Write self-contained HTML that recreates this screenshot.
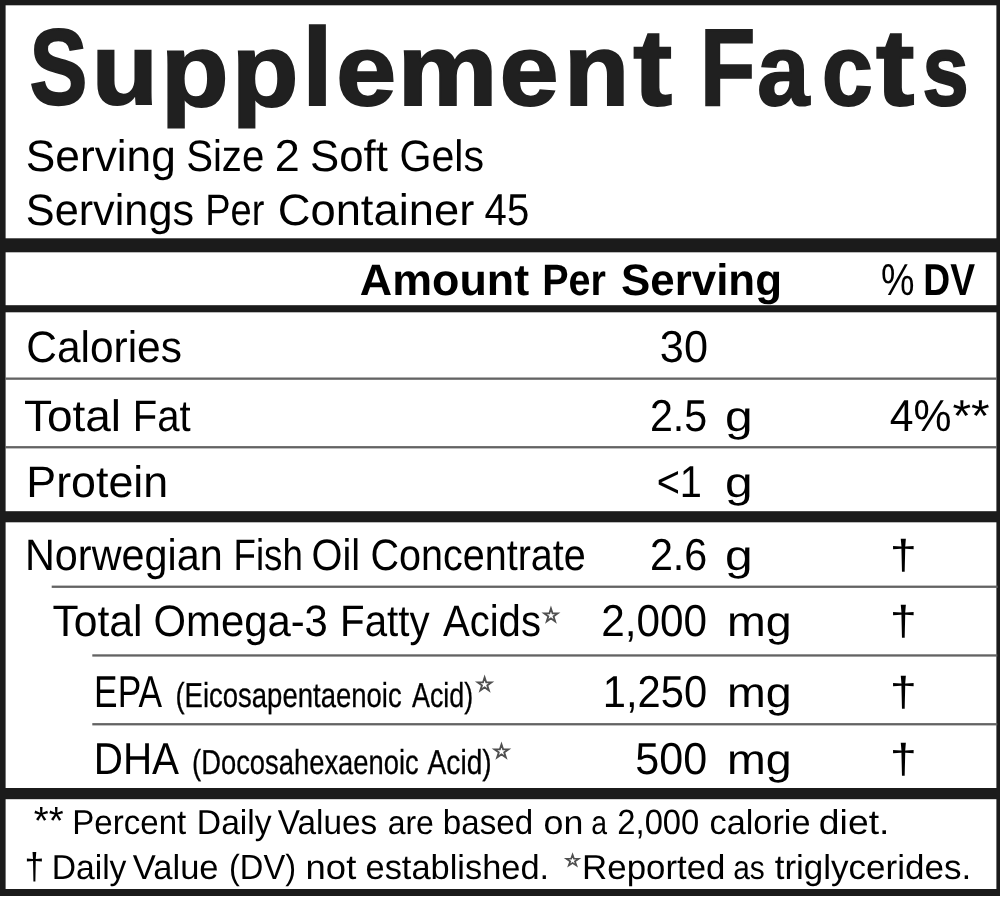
<!DOCTYPE html>
<html lang="en">
<head>
<meta charset="utf-8">
<title>Supplement Facts</title>
<style>
html,body{margin:0;padding:0;background:#fff;}
body{width:1000px;height:899px;overflow:hidden;}
svg{display:block;}
text{font-family:"Liberation Sans",sans-serif;font-size:44px;fill:#000;text-rendering:geometricPrecision;}
.b{font-weight:700;}
.n{font-weight:400;}
.t{font-size:110px;font-weight:700;fill:#202020;stroke:#202020;stroke-width:2px;stroke-linejoin:miter;}
.c{font-size:34.5px;stroke:#000;stroke-width:0.3px;}
.f{font-size:34.5px;}
.s{font-family:"DejaVu Sans",sans-serif;font-size:20px;fill:#505050;stroke:#505050;stroke-width:1.2px;}
.s2{font-family:"DejaVu Sans",sans-serif;font-size:16.5px;fill:#505050;stroke:#505050;stroke-width:1.1px;}
</style>
</head>
<body>
<svg width="1000" height="899" viewBox="0 0 1000 899">
<rect x="0" y="0" width="1000" height="899" fill="#fff"/>
<rect x="0" y="0" width="1000" height="5.3" fill="#1b1b1b"/>
<rect x="0" y="0" width="5.6" height="896" fill="#1b1b1b"/>
<rect x="996.4" y="0" width="3.6" height="896" fill="#1b1b1b"/>
<rect x="0" y="889" width="1000" height="7" fill="#1b1b1b"/>
<rect x="0" y="238.3" width="1000" height="14" fill="#1b1b1b"/>
<rect x="0" y="305.2" width="1000" height="7.1" fill="#1b1b1b"/>
<rect x="0" y="511.2" width="1000" height="11.1" fill="#1b1b1b"/>
<rect x="0" y="788" width="1000" height="11.2" fill="#1b1b1b"/>
<rect x="5" y="377.5" width="992" height="2.3" fill="#636363"/>
<rect x="5" y="446.1" width="992" height="2.3" fill="#636363"/>
<rect x="51.7" y="585.6" width="946" height="2.3" fill="#636363"/>
<rect x="92.3" y="654.3" width="905" height="2.3" fill="#636363"/>
<rect x="92.3" y="723.1" width="905" height="2.3" fill="#636363"/>
<text class="t"><tspan style="font-size:107.2px;stroke-width:2.4px" x="29.72" y="104.05" textLength="57.45" lengthAdjust="spacingAndGlyphs">S</tspan><tspan style="font-size:100.91px;stroke-width:2.0px" x="91.87" y="104.31" textLength="66.28" lengthAdjust="spacingAndGlyphs">u</tspan><tspan style="font-size:103.42px;stroke-width:2.0px" x="160.67" y="105.80" textLength="67.88" lengthAdjust="spacingAndGlyphs">p</tspan><tspan style="font-size:103.42px;stroke-width:2.0px" x="231.81" y="105.80" textLength="66.67" lengthAdjust="spacingAndGlyphs">p</tspan><tspan style="font-size:110.13px;stroke-width:2.0px" x="302.37" y="104.80" textLength="30.37" lengthAdjust="spacingAndGlyphs">l</tspan><tspan style="font-size:101.49px;stroke-width:2.0px" x="336.39" y="104.61" textLength="59.89" lengthAdjust="spacingAndGlyphs">e</tspan><tspan style="font-size:101.75px;stroke-width:2.0px" x="397.59" y="104.80" textLength="99.99" lengthAdjust="spacingAndGlyphs">m</tspan><tspan style="font-size:101.49px;stroke-width:2.0px" x="499.87" y="104.61" textLength="58.74" lengthAdjust="spacingAndGlyphs">e</tspan><tspan style="font-size:101.75px;stroke-width:2.0px" x="563.96" y="104.80" textLength="65.27" lengthAdjust="spacingAndGlyphs">n</tspan><tspan style="font-size:108.3px;stroke-width:2.0px" x="633.18" y="104.65" textLength="38.85" lengthAdjust="spacingAndGlyphs">t</tspan> <tspan style="font-size:108.72px;stroke-width:2.4px" x="700.19" y="104.60" textLength="54.90" lengthAdjust="spacingAndGlyphs">F</tspan><tspan style="font-size:101.49px;stroke-width:2.0px" x="757.25" y="104.61" textLength="52.15" lengthAdjust="spacingAndGlyphs">a</tspan><tspan style="font-size:101.12px;stroke-width:2.2px" x="821.94" y="104.51" textLength="50.62" lengthAdjust="spacingAndGlyphs">c</tspan><tspan style="font-size:108.3px;stroke-width:2.0px" x="875.99" y="104.65" textLength="38.42" lengthAdjust="spacingAndGlyphs">t</tspan><tspan style="font-size:101.03px;stroke-width:2.2px" x="922.58" y="104.51" textLength="46.12" lengthAdjust="spacingAndGlyphs">s</tspan></text>
<text><tspan style="font-size:44.0px" x="25.79" y="170.60" textLength="150.06" lengthAdjust="spacingAndGlyphs">Serving</tspan> <tspan style="font-size:44.0px" x="186.18" y="170.60" textLength="78.11" lengthAdjust="spacingAndGlyphs">Size</tspan> <tspan style="font-size:44.62px" x="274.74" y="170.60" textLength="25.03" lengthAdjust="spacingAndGlyphs">2</tspan> <tspan style="font-size:44.0px" x="310.01" y="170.60" textLength="77.81" lengthAdjust="spacingAndGlyphs">Soft</tspan> <tspan style="font-size:44.0px" x="399.43" y="170.60" textLength="84.55" lengthAdjust="spacingAndGlyphs">Gels</tspan> </text>
<text><tspan style="font-size:44.0px" x="25.84" y="224.50" textLength="168.23" lengthAdjust="spacingAndGlyphs">Servings</tspan> <tspan style="font-size:44.0px" x="205.28" y="224.50" textLength="59.15" lengthAdjust="spacingAndGlyphs">Per</tspan> <tspan style="font-size:44.0px" x="277.70" y="224.50" textLength="196.55" lengthAdjust="spacingAndGlyphs">Container</tspan> <tspan style="font-size:44.62px" x="484.58" y="224.50" textLength="44.60" lengthAdjust="spacingAndGlyphs">45</tspan> </text>
<text class="b"><tspan style="font-size:44.0px" x="359.88" y="295.00" textLength="169.26" lengthAdjust="spacingAndGlyphs">Amount</tspan> <tspan style="font-size:44.0px" x="542.26" y="295.00" textLength="63.74" lengthAdjust="spacingAndGlyphs">Per</tspan> <tspan style="font-size:44.0px" x="621.04" y="295.00" textLength="160.90" lengthAdjust="spacingAndGlyphs">Serving</tspan> <tspan class="n" style="font-size:44.62px" x="881.06" y="295.00" textLength="33.48" lengthAdjust="spacingAndGlyphs">%</tspan> <tspan style="font-size:44.62px" x="923.31" y="295.00" textLength="51.75" lengthAdjust="spacingAndGlyphs">DV</tspan> </text>
<text><tspan style="font-size:44.0px" x="26.24" y="361.50" textLength="155.69" lengthAdjust="spacingAndGlyphs">Calories</tspan> <tspan style="font-size:44.62px" x="659.85" y="361.50" textLength="48.14" lengthAdjust="spacingAndGlyphs">30</tspan> </text>
<text><tspan style="font-size:44.0px" x="23.97" y="430.50" textLength="97.11" lengthAdjust="spacingAndGlyphs">Total</tspan> <tspan style="font-size:44.0px" x="132.71" y="430.50" textLength="57.88" lengthAdjust="spacingAndGlyphs">Fat</tspan> <tspan style="font-size:44.62px" x="649.93" y="430.50" textLength="57.30" lengthAdjust="spacingAndGlyphs">2.5</tspan> <tspan style="font-size:42.42px" x="724.91" y="430.50" textLength="27.70" lengthAdjust="spacingAndGlyphs">g</tspan> <tspan style="font-size:44.62px" x="889.82" y="430.50" textLength="61.70" lengthAdjust="spacingAndGlyphs">4%</tspan><tspan style="font-size:44.62px" x="952.43" y="430.50" textLength="37.32" lengthAdjust="spacingAndGlyphs">**</tspan> </text>
<text><tspan style="font-size:44.0px" x="26.33" y="497.00" textLength="141.88" lengthAdjust="spacingAndGlyphs">Protein</tspan> <tspan style="font-size:44.62px" x="656.64" y="497.00" textLength="45.30" lengthAdjust="spacingAndGlyphs">&lt;1</tspan> <tspan style="font-size:42.42px" x="724.91" y="497.00" textLength="27.70" lengthAdjust="spacingAndGlyphs">g</tspan> </text>
<text><tspan style="font-size:44.0px" x="25.01" y="570.00" textLength="197.68" lengthAdjust="spacingAndGlyphs">Norwegian</tspan> <tspan style="font-size:44.0px" x="233.49" y="570.00" textLength="69.29" lengthAdjust="spacingAndGlyphs">Fish</tspan> <tspan style="font-size:44.0px" x="311.51" y="570.00" textLength="48.65" lengthAdjust="spacingAndGlyphs">Oil</tspan> <tspan style="font-size:44.0px" x="370.49" y="570.00" textLength="215.26" lengthAdjust="spacingAndGlyphs">Concentrate</tspan> <tspan style="font-size:44.62px" x="649.92" y="570.00" textLength="57.39" lengthAdjust="spacingAndGlyphs">2.6</tspan> <tspan style="font-size:42.42px" x="724.91" y="570.00" textLength="27.70" lengthAdjust="spacingAndGlyphs">g</tspan> <tspan style="font-size:41.67px" x="889.81" y="569.19" textLength="27.16" lengthAdjust="spacingAndGlyphs">†</tspan> </text>
<text><tspan style="font-size:44.0px" x="52.44" y="636.30" textLength="90.01" lengthAdjust="spacingAndGlyphs">Total</tspan> <tspan style="font-size:44.0px" x="153.52" y="636.30" textLength="174.32" lengthAdjust="spacingAndGlyphs">Omega-3</tspan> <tspan style="font-size:44.0px" x="340.10" y="636.30" textLength="89.48" lengthAdjust="spacingAndGlyphs">Fatty</tspan> <tspan style="font-size:44.0px" x="442.92" y="636.30" textLength="98.03" lengthAdjust="spacingAndGlyphs">Acids</tspan><tspan class="s" x="542.10" y="621.80" textLength="17.89" lengthAdjust="spacingAndGlyphs">☆</tspan> <tspan style="font-size:44.62px" x="601.27" y="636.30" textLength="105.88" lengthAdjust="spacingAndGlyphs">2,000</tspan> <tspan style="font-size:42.42px" x="726.91" y="636.30" textLength="64.69" lengthAdjust="spacingAndGlyphs">mg</tspan> <tspan style="font-size:41.67px" x="889.81" y="635.49" textLength="27.16" lengthAdjust="spacingAndGlyphs">†</tspan> </text>
<text><tspan style="font-size:44.62px" x="94.11" y="707.00" textLength="67.96" lengthAdjust="spacingAndGlyphs">EPA</tspan> <tspan class="c" style="font-size:34.5px" x="175.39" y="707.00" textLength="226.33" lengthAdjust="spacingAndGlyphs">(Eicosapentaenoic</tspan> <tspan class="c" style="font-size:34.5px" x="411.95" y="707.00" textLength="61.32" lengthAdjust="spacingAndGlyphs">Acid)</tspan><tspan class="s" x="475.48" y="691.10" textLength="18.24" lengthAdjust="spacingAndGlyphs">☆</tspan> <tspan style="font-size:44.62px" x="602.83" y="707.00" textLength="104.30" lengthAdjust="spacingAndGlyphs">1,250</tspan> <tspan style="font-size:42.42px" x="726.91" y="707.00" textLength="64.69" lengthAdjust="spacingAndGlyphs">mg</tspan> <tspan style="font-size:41.67px" x="889.81" y="706.19" textLength="27.16" lengthAdjust="spacingAndGlyphs">†</tspan> </text>
<text><tspan style="font-size:44.62px" x="93.68" y="773.70" textLength="85.40" lengthAdjust="spacingAndGlyphs">DHA</tspan> <tspan class="c" style="font-size:34.5px" x="192.10" y="773.70" textLength="226.62" lengthAdjust="spacingAndGlyphs">(Docosahexaenoic</tspan> <tspan class="c" style="font-size:34.5px" x="427.54" y="773.70" textLength="64.20" lengthAdjust="spacingAndGlyphs">Acid)</tspan><tspan class="s" x="492.26" y="757.80" textLength="18.48" lengthAdjust="spacingAndGlyphs">☆</tspan> <tspan style="font-size:44.62px" x="635.27" y="773.70" textLength="71.91" lengthAdjust="spacingAndGlyphs">500</tspan> <tspan style="font-size:42.42px" x="726.91" y="773.70" textLength="64.69" lengthAdjust="spacingAndGlyphs">mg</tspan> <tspan style="font-size:41.67px" x="889.81" y="772.89" textLength="27.16" lengthAdjust="spacingAndGlyphs">†</tspan> </text>
<text class="f"><tspan style="font-size:39.31px" x="33.78" y="834.24" textLength="29.82" lengthAdjust="spacingAndGlyphs">**</tspan> <tspan style="font-size:34.5px" x="72.29" y="833.60" textLength="113.95" lengthAdjust="spacingAndGlyphs">Percent</tspan> <tspan style="font-size:34.5px" x="196.84" y="833.60" textLength="74.83" lengthAdjust="spacingAndGlyphs">Daily</tspan> <tspan style="font-size:34.5px" x="277.85" y="833.60" textLength="99.35" lengthAdjust="spacingAndGlyphs">Values</tspan> <tspan style="font-size:33.26px" x="387.64" y="833.60" textLength="46.18" lengthAdjust="spacingAndGlyphs">are</tspan> <tspan style="font-size:34.5px" x="442.86" y="833.60" textLength="90.27" lengthAdjust="spacingAndGlyphs">based</tspan> <tspan style="font-size:33.26px" x="543.50" y="833.60" textLength="39.83" lengthAdjust="spacingAndGlyphs">on</tspan> <tspan style="font-size:33.26px" x="591.19" y="833.60" textLength="15.81" lengthAdjust="spacingAndGlyphs">a</tspan> <tspan style="font-size:34.98px" x="617.35" y="833.60" textLength="81.93" lengthAdjust="spacingAndGlyphs">2,000</tspan> <tspan style="font-size:34.5px" x="709.54" y="833.60" textLength="100.98" lengthAdjust="spacingAndGlyphs">calorie</tspan> <tspan style="font-size:34.5px" x="818.83" y="833.60" textLength="70.58" lengthAdjust="spacingAndGlyphs">diet.</tspan> </text>
<text class="f"><tspan style="font-size:37.12px" x="24.60" y="879.10" textLength="19.77" lengthAdjust="spacingAndGlyphs">†</tspan> <tspan style="font-size:34.5px" x="51.64" y="878.50" textLength="74.83" lengthAdjust="spacingAndGlyphs">Daily</tspan> <tspan style="font-size:34.5px" x="132.85" y="878.50" textLength="85.68" lengthAdjust="spacingAndGlyphs">Value</tspan> <tspan style="font-size:34.98px" x="228.98" y="878.50" textLength="67.05" lengthAdjust="spacingAndGlyphs">(DV)</tspan> <tspan style="font-size:34.5px" x="305.58" y="878.50" textLength="50.69" lengthAdjust="spacingAndGlyphs">not</tspan> <tspan style="font-size:34.5px" x="365.54" y="878.50" textLength="183.60" lengthAdjust="spacingAndGlyphs">established.</tspan> <tspan class="s2" x="564.43" y="866.30" textLength="16.14" lengthAdjust="spacingAndGlyphs">☆</tspan><tspan style="font-size:34.5px" x="582.14" y="878.50" textLength="143.30" lengthAdjust="spacingAndGlyphs">Reported</tspan> <tspan style="font-size:33.26px" x="733.23" y="878.50" textLength="31.55" lengthAdjust="spacingAndGlyphs">as</tspan> <tspan style="font-size:34.5px" x="774.67" y="878.50" textLength="196.53" lengthAdjust="spacingAndGlyphs">triglycerides.</tspan> </text>
</svg>
</body>
</html>
